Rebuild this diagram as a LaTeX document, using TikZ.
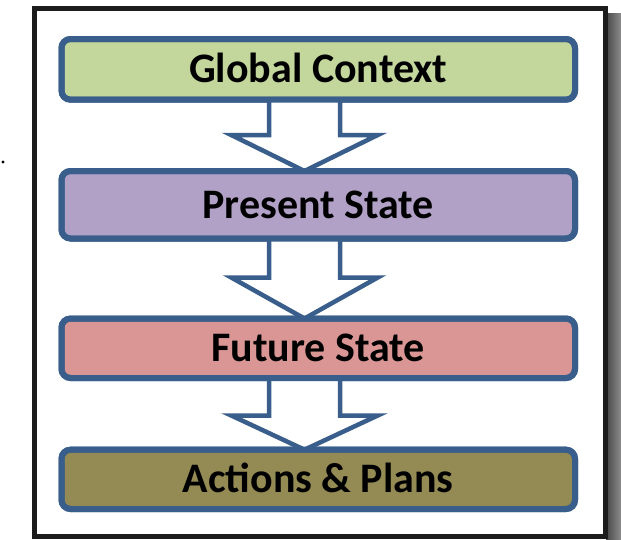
\documentclass[tikz,border=0pt]{standalone}
\usepackage{fontspec}
\setmainfont{Carlito}
\usetikzlibrary{calc}
\definecolor{bordblue}{HTML}{3A5E8B}
\definecolor{cgreen}{HTML}{C3D69B}
\definecolor{cpurple}{HTML}{B2A1C7}
\definecolor{cpink}{HTML}{D99694}
\definecolor{colive}{HTML}{948A54}
\definecolor{framec}{HTML}{1C1C1C}
\begin{document}
\begin{tikzpicture}[x=1pt,y=-1pt,
  box/.style={draw=bordblue, line width=6pt, rounded corners=9pt, outer sep=0pt,
    minimum width=513.5pt, inner sep=0pt, text height=27pt, text depth=0pt,
    font=\fontsize{42}{42}\selectfont\bfseries},
  blockarrow/.style={draw=bordblue, fill=white, line width=4.5pt, miter limit=10}]
\useasboundingbox (0,0) rectangle (621,539);
% shadow and frame
\shade[left color=black!72, right color=black!45] (606,13) rectangle (621,539);
\fill[white] (34.5,8) rectangle (605,536.5);
\draw[framec, line width=5pt] (34.5,8) rectangle (605,536.5);
% stray dot
\node[circle, fill=black, inner sep=0pt, minimum size=3.2pt] (dot) at (3,162) {};
% boxes
\node[box, fill=cgreen, minimum height=60.7pt] (g) at (318.25,69.35) {Global Context};
\node[box, fill=cpurple, minimum height=67.5pt] (p) at (318.25,204.75) {Present State};
\node[box, fill=cpink, minimum height=59.5pt] (f) at (318.25,348.25) {Future State};
\node[box, fill=colive, minimum height=59.3pt] (a) at (318.25,479.35) {Actions \& Plans};
% arrows (drawn behind boxes)
\begin{scope}[on background layer/.try]
\end{scope}
\draw[blockarrow] ($(g.south)+(-49.25,-2)$) -- ($(g.south)+(-49.25,35.3)$) -- ($(g.south)+(-87,35.3)$)
  -- ($(p.north)+(-13.75,0)$) -- ($(g.south)+(59.5,35.3)$) -- ($(g.south)+(21.75,35.3)$) -- ($(g.south)+(21.75,-2)$);
\draw[blockarrow] ($(p.south)+(-49.25,-2)$) -- ($(p.south)+(-49.25,39)$) -- ($(p.south)+(-87,39)$)
  -- ($(f.north)+(-13.75,0)$) -- ($(p.south)+(59.5,39)$) -- ($(p.south)+(21.75,39)$) -- ($(p.south)+(21.75,-2)$);
\draw[blockarrow] ($(f.south)+(-49.25,-2)$) -- ($(f.south)+(-49.25,37.5)$) -- ($(f.south)+(-87,37.5)$)
  -- ($(a.north)+(-13.75,0)$) -- ($(f.south)+(59.5,37.5)$) -- ($(f.south)+(21.75,37.5)$) -- ($(f.south)+(21.75,-2)$);
% redraw box borders on top of arrow ends
\draw[bordblue, line width=6pt, rounded corners=9pt] (g.south west) rectangle (g.north east);
\draw[bordblue, line width=6pt, rounded corners=9pt] (p.south west) rectangle (p.north east);
\draw[bordblue, line width=6pt, rounded corners=9pt] (f.south west) rectangle (f.north east);
\draw[bordblue, line width=6pt, rounded corners=9pt] (a.south west) rectangle (a.north east);
\end{tikzpicture}
\end{document}
